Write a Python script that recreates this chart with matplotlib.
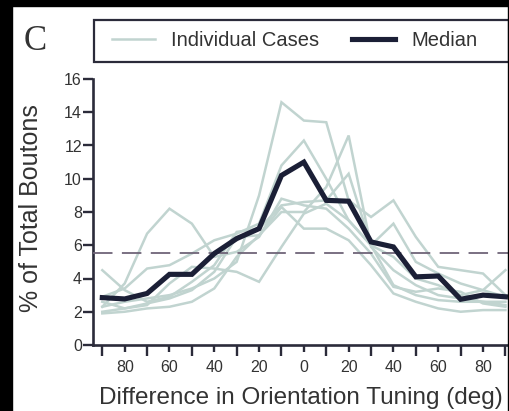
import matplotlib
matplotlib.use("Agg")
import matplotlib.pyplot as plt
from matplotlib.patches import Rectangle
from matplotlib.lines import Line2D
from matplotlib.ticker import FixedLocator

plt.rcParams['font.family'] = ['Liberation Sans', 'DejaVu Sans']

# Data: orientation difference (deg) and % of total boutons
angles = [-90, -80, -70, -60, -50, -40, -30, -20, -10, 0, 10, 20, 30, 40, 50, 60, 70, 80, 90]
median = [2.85, 2.77, 3.1, 4.25, 4.25, 5.5, 6.4, 7.0, 10.2, 11.0, 8.7, 8.65, 6.2, 5.9, 4.1, 4.15, 2.75, 3.0, 2.9]
case1 = [2.3, 2.6, 2.8, 3.0, 3.4, 4.0, 5.0, 9.0, 14.6, 13.5, 13.4, 8.7, 7.7, 8.7, 6.5, 4.7, 4.5, 4.3, 3.0]
case2 = [2.6, 2.2, 2.5, 2.8, 3.3, 4.4, 6.5, 6.6, 8.0, 8.0, 9.5, 12.6, 5.9, 4.5, 3.6, 3.0, 2.8, 2.6, 2.4]
case3 = [2.9, 3.4, 4.6, 4.8, 5.5, 6.3, 6.7, 7.3, 10.8, 12.3, 10.0, 7.5, 6.0, 3.6, 3.0, 2.7, 2.6, 2.6, 2.6]
case4 = [2.3, 3.7, 6.7, 8.2, 7.3, 5.3, 5.6, 6.5, 8.8, 8.4, 8.2, 7.0, 5.5, 3.5, 3.2, 3.4, 3.2, 2.5, 2.3]
case5 = [4.5, 3.3, 2.6, 2.9, 3.8, 4.8, 6.8, 7.0, 8.4, 8.6, 8.7, 10.3, 6.0, 7.3, 5.0, 4.3, 3.7, 3.3, 2.9]
case6 = [2.0, 2.2, 2.4, 3.7, 4.7, 4.6, 4.4, 3.8, 5.9, 7.9, 8.5, 7.5, 6.0, 5.3, 4.0, 3.6, 3.0, 3.3, 4.5]
case7 = [1.9, 2.0, 2.2, 2.3, 2.6, 3.4, 5.3, 6.6, 8.3, 7.0, 7.0, 6.3, 4.8, 3.1, 2.6, 2.2, 2.0, 2.1, 2.1]
cases = [case1, case2, case3, case4, case5, case6, case7]
uniform_level = 100.0 / 18
labeled_ticks = [-80, -60, -40, -20, 0, 20, 40, 60, 80]
unlabeled_ticks = [-90, -70, -50, -30, -10, 10, 30, 50, 70, 90]
ytick_vals = [0, 2, 4, 6, 8, 10, 12, 14, 16]

W, H = 510, 411
fig = plt.figure(figsize=(W / 100, H / 100), dpi=100)
fig.patch.set_facecolor('white')

ax = fig.add_axes([93 / W, 66 / H, 416 / W, 266 / H])
ax.set_facecolor('white')

case_color = '#c1d4d0'
med_color = '#1b1f36'
axis_color = '#2b2b3a'
text_color = '#333333'

for c in cases:
    ax.plot(angles, c, color=case_color, lw=1.8, solid_joinstyle='miter', zorder=2)
ax.plot(angles, median, color=med_color, lw=3.7, solid_joinstyle='miter', zorder=4)
ax.axhline(uniform_level, color='#6f6578', lw=1.3, dashes=(10.8, 5.2), zorder=3)

ax.set_xlim(-94.15, 91.6)
ax.set_ylim(0, 16)

for s in ['top', 'right']:
    ax.spines[s].set_visible(False)
for s in ['left', 'bottom']:
    ax.spines[s].set_color(axis_color)
    ax.spines[s].set_linewidth(1.9)
ax.spines['left'].set_bounds(0, 16)

ax.set_yticks(ytick_vals)
ax.set_yticklabels([str(v) for v in ytick_vals])
ax.set_xticks(labeled_ticks)
ax.set_xticklabels([str(abs(v)) for v in labeled_ticks])
ax.xaxis.set_minor_locator(FixedLocator(unlabeled_ticks))
ax.tick_params(axis='both', which='both', direction='out', color=axis_color, width=1.7,
               labelsize=11.5, labelcolor=text_color)
ax.tick_params(axis='y', length=7, pad=1)
ax.tick_params(axis='x', which='major', length=5, pad=5.5)
ax.tick_params(axis='x', which='minor', length=8)

ax.set_ylabel('% of Total Boutons', fontsize=18, color=text_color)
ax.yaxis.set_label_coords(-0.12, 0.515)
ax.set_xlabel('Difference in Orientation Tuning (deg)', fontsize=17.5, color=text_color, labelpad=9)

# legend
fig.patches.append(Rectangle((94 / W, (H - 62) / H), 415 / W, 42 / H, transform=fig.transFigure,
                             facecolor='white', edgecolor=axis_color, lw=1.6, zorder=5))
handles = [Line2D([], [], color=case_color, lw=1.8), Line2D([], [], color=med_color, lw=3.7)]
leg = fig.legend(handles, ['Individual Cases', 'Median'], loc='center left',
                 bbox_to_anchor=(112 / W, (H - 41) / H), borderaxespad=0, borderpad=0,
                 ncol=2, fontsize=14.5, frameon=False, handlelength=2.15,
                 handletextpad=0.8, columnspacing=1.6)
leg.set_zorder(6)
for t in leg.get_texts():
    t.set_color(text_color)

fig.text(24 / W, (H - 50) / H, 'C', fontsize=25, family=['Liberation Serif', 'DejaVu Serif'],
         color=text_color, ha='left', va='baseline')

# scan border
fig.patches.append(Rectangle((0, 0), 12 / W, 1, transform=fig.transFigure, color='black', zorder=10))
fig.patches.append(Rectangle((0, (H - 6) / H), 1, 6 / H, transform=fig.transFigure, color='black', zorder=10))
fig.patches.append(Rectangle(((W - 1.5) / W, 0), 1.5 / W, 1, transform=fig.transFigure, color='black', zorder=10))

fig.savefig('out.png', dpi=100, facecolor='white')
